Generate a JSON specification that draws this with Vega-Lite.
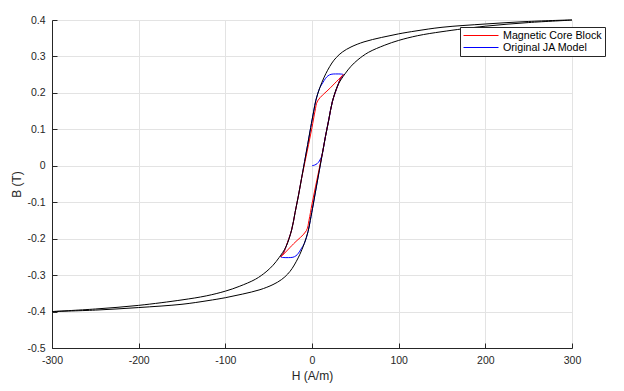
{
  "$schema": "https://vega.github.io/schema/vega-lite/v6.json",
  "width": 520,
  "height": 328,
  "autosize": {"type": "none"},
  "padding": {"left": 52, "top": 20, "right": 52, "bottom": 43},
  "background": "white",
  "config": {
    "font": "Liberation Sans",
    "view": {"stroke": null},
    "axis": {
      "domainColor": "#262626", "tickColor": "#262626", "labelColor": "#262626", "titleColor": "#262626",
      "labelFont": "Liberation Sans", "titleFont": "Liberation Sans", "labelFontSize": 10.5, "titleFontSize": 12,
      "titleFontWeight": "normal", "gridColor": "#e3e3e3", "gridWidth": 1, "tickSize": -5, "tickWidth": 1, "domainWidth": 1,
      "labelOverlap": false
    }
  },
  "data": {"values": [
    {"s":"major","i":0,"H":-300,"B":-0.400},{"s":"major","i":1,"H":-250,"B":-0.396},{"s":"major","i":2,"H":-200,"B":-0.389},{"s":"major","i":3,"H":-150,"B":-0.380},{"s":"major","i":4,"H":-120,"B":-0.370},{"s":"major","i":5,"H":-100,"B":-0.362},{"s":"major","i":6,"H":-80,"B":-0.352},{"s":"major","i":7,"H":-60,"B":-0.340},{"s":"major","i":8,"H":-45,"B":-0.326},{"s":"major","i":9,"H":-35,"B":-0.312},{"s":"major","i":10,"H":-28,"B":-0.297},{"s":"major","i":11,"H":-23,"B":-0.282},{"s":"major","i":12,"H":-18,"B":-0.262},{"s":"major","i":13,"H":-14,"B":-0.243},{"s":"major","i":14,"H":-9,"B":-0.214},{"s":"major","i":15,"H":-4.5,"B":-0.180},{"s":"major","i":16,"H":-2,"B":-0.150},{"s":"major","i":17,"H":1.5,"B":-0.105},{"s":"major","i":18,"H":5,"B":-0.058},{"s":"major","i":19,"H":8.5,"B":-0.012},{"s":"major","i":20,"H":12,"B":0.034},{"s":"major","i":21,"H":15.5,"B":0.080},{"s":"major","i":22,"H":19.5,"B":0.128},{"s":"major","i":23,"H":23.5,"B":0.176},{"s":"major","i":24,"H":30,"B":0.222},{"s":"major","i":25,"H":38,"B":0.252},{"s":"major","i":26,"H":45,"B":0.273},{"s":"major","i":27,"H":53,"B":0.291},{"s":"major","i":28,"H":65,"B":0.311},{"s":"major","i":29,"H":84,"B":0.331},{"s":"major","i":30,"H":100,"B":0.344},{"s":"major","i":31,"H":122,"B":0.357},{"s":"major","i":32,"H":150,"B":0.368},{"s":"major","i":33,"H":200,"B":0.383},{"s":"major","i":34,"H":250,"B":0.393},{"s":"major","i":35,"H":300,"B":0.400},
    {"s":"major","i":36,"H":250,"B":0.396},{"s":"major","i":37,"H":200,"B":0.389},{"s":"major","i":38,"H":150,"B":0.380},{"s":"major","i":39,"H":120,"B":0.370},{"s":"major","i":40,"H":100,"B":0.362},{"s":"major","i":41,"H":80,"B":0.352},{"s":"major","i":42,"H":60,"B":0.340},{"s":"major","i":43,"H":45,"B":0.326},{"s":"major","i":44,"H":35,"B":0.312},{"s":"major","i":45,"H":28,"B":0.297},{"s":"major","i":46,"H":23,"B":0.282},{"s":"major","i":47,"H":18,"B":0.262},{"s":"major","i":48,"H":14,"B":0.243},{"s":"major","i":49,"H":9,"B":0.214},{"s":"major","i":50,"H":4.5,"B":0.180},{"s":"major","i":51,"H":2,"B":0.150},{"s":"major","i":52,"H":-1.5,"B":0.105},{"s":"major","i":53,"H":-5,"B":0.058},{"s":"major","i":54,"H":-8.5,"B":0.012},{"s":"major","i":55,"H":-12,"B":-0.034},{"s":"major","i":56,"H":-15.5,"B":-0.080},{"s":"major","i":57,"H":-19.5,"B":-0.128},{"s":"major","i":58,"H":-23.5,"B":-0.176},{"s":"major","i":59,"H":-30,"B":-0.222},{"s":"major","i":60,"H":-38,"B":-0.252},{"s":"major","i":61,"H":-45,"B":-0.273},{"s":"major","i":62,"H":-53,"B":-0.291},{"s":"major","i":63,"H":-65,"B":-0.311},{"s":"major","i":64,"H":-84,"B":-0.331},{"s":"major","i":65,"H":-100,"B":-0.344},{"s":"major","i":66,"H":-122,"B":-0.357},{"s":"major","i":67,"H":-150,"B":-0.368},{"s":"major","i":68,"H":-200,"B":-0.383},{"s":"major","i":69,"H":-250,"B":-0.393},{"s":"major","i":70,"H":-300,"B":-0.400},

    {"s":"Original JA Model","i":0,"H":0,"B":0},{"s":"Original JA Model","i":1,"H":3,"B":0.002},{"s":"Original JA Model","i":2,"H":6,"B":0.006},{"s":"Original JA Model","i":3,"H":8.5,"B":0.013},{"s":"Original JA Model","i":4,"H":10.5,"B":0.022},{"s":"Original JA Model","i":5,"H":12,"B":0.034},{"s":"Original JA Model","i":6,"H":15.5,"B":0.080},{"s":"Original JA Model","i":7,"H":19.5,"B":0.128},{"s":"Original JA Model","i":8,"H":23.5,"B":0.176},{"s":"Original JA Model","i":9,"H":30,"B":0.222},{"s":"Original JA Model","i":10,"H":33,"B":0.240},{"s":"Original JA Model","i":11,"H":36,"B":0.250},
    {"s":"Original JA Model","i":12,"H":31,"B":0.252},{"s":"Original JA Model","i":13,"H":27,"B":0.252},{"s":"Original JA Model","i":14,"H":22,"B":0.251},{"s":"Original JA Model","i":15,"H":18.5,"B":0.247},{"s":"Original JA Model","i":16,"H":15.7,"B":0.240},{"s":"Original JA Model","i":17,"H":12.5,"B":0.228},{"s":"Original JA Model","i":18,"H":9,"B":0.214},{"s":"Original JA Model","i":19,"H":4.5,"B":0.180},{"s":"Original JA Model","i":20,"H":2,"B":0.150},{"s":"Original JA Model","i":21,"H":-1.5,"B":0.105},{"s":"Original JA Model","i":22,"H":-5,"B":0.058},{"s":"Original JA Model","i":23,"H":-8.5,"B":0.012},{"s":"Original JA Model","i":24,"H":-12,"B":-0.034},{"s":"Original JA Model","i":25,"H":-15.5,"B":-0.080},{"s":"Original JA Model","i":26,"H":-19.5,"B":-0.128},{"s":"Original JA Model","i":27,"H":-23.5,"B":-0.176},{"s":"Original JA Model","i":28,"H":-30,"B":-0.222},{"s":"Original JA Model","i":29,"H":-33,"B":-0.240},{"s":"Original JA Model","i":30,"H":-36,"B":-0.250},
    {"s":"Original JA Model","i":31,"H":-31,"B":-0.252},{"s":"Original JA Model","i":32,"H":-27,"B":-0.252},{"s":"Original JA Model","i":33,"H":-22,"B":-0.251},{"s":"Original JA Model","i":34,"H":-18.5,"B":-0.247},{"s":"Original JA Model","i":35,"H":-15.7,"B":-0.240},{"s":"Original JA Model","i":36,"H":-12.5,"B":-0.228},{"s":"Original JA Model","i":37,"H":-9,"B":-0.214},{"s":"Original JA Model","i":38,"H":-4.5,"B":-0.180},{"s":"Original JA Model","i":39,"H":-2,"B":-0.150},{"s":"Original JA Model","i":40,"H":1.5,"B":-0.105},{"s":"Original JA Model","i":41,"H":5,"B":-0.058},{"s":"Original JA Model","i":42,"H":8.5,"B":-0.012},{"s":"Original JA Model","i":43,"H":12,"B":0.034},{"s":"Original JA Model","i":44,"H":15.5,"B":0.080},{"s":"Original JA Model","i":45,"H":19.5,"B":0.128},{"s":"Original JA Model","i":46,"H":23.5,"B":0.176},{"s":"Original JA Model","i":47,"H":30,"B":0.222},{"s":"Original JA Model","i":48,"H":33,"B":0.240},{"s":"Original JA Model","i":49,"H":36,"B":0.250},

    {"s":"Magnetic Core Block","i":0,"H":36,"B":0.250},{"s":"Magnetic Core Block","i":1,"H":21.25,"B":0.214},{"s":"Magnetic Core Block","i":2,"H":6.5,"B":0.178},{"s":"Magnetic Core Block","i":3,"H":3.5,"B":0.150},{"s":"Magnetic Core Block","i":4,"H":0,"B":0.105},{"s":"Magnetic Core Block","i":5,"H":-4,"B":0.058},{"s":"Magnetic Core Block","i":6,"H":-8,"B":0.012},{"s":"Magnetic Core Block","i":7,"H":-12,"B":-0.034},{"s":"Magnetic Core Block","i":8,"H":-15.5,"B":-0.080},{"s":"Magnetic Core Block","i":9,"H":-19.5,"B":-0.128},{"s":"Magnetic Core Block","i":10,"H":-23.5,"B":-0.176},{"s":"Magnetic Core Block","i":11,"H":-30,"B":-0.222},{"s":"Magnetic Core Block","i":12,"H":-33,"B":-0.240},{"s":"Magnetic Core Block","i":13,"H":-36,"B":-0.250},
    {"s":"Magnetic Core Block","i":14,"H":-21.25,"B":-0.214},{"s":"Magnetic Core Block","i":15,"H":-6.5,"B":-0.178},{"s":"Magnetic Core Block","i":16,"H":-3.5,"B":-0.150},{"s":"Magnetic Core Block","i":17,"H":0,"B":-0.105},{"s":"Magnetic Core Block","i":18,"H":4,"B":-0.058},{"s":"Magnetic Core Block","i":19,"H":8,"B":-0.012},{"s":"Magnetic Core Block","i":20,"H":12,"B":0.034},{"s":"Magnetic Core Block","i":21,"H":15.5,"B":0.080},{"s":"Magnetic Core Block","i":22,"H":19.5,"B":0.128},{"s":"Magnetic Core Block","i":23,"H":23.5,"B":0.176},{"s":"Magnetic Core Block","i":24,"H":30,"B":0.222},{"s":"Magnetic Core Block","i":25,"H":33,"B":0.240},{"s":"Magnetic Core Block","i":26,"H":36,"B":0.250}
  ]},
  "encoding": {
    "x": {"field": "H", "type": "quantitative", "title": "H (A/m)",
      "scale": {"domain": [-300, 300], "nice": false, "zero": false},
      "axis": {"values": [-300,-200,-100,0,100,200,300], "labelFlush": false, "labelPadding": 12, "titlePadding": 5,
        "labelExpr": "replace(format(datum.value, 'd'), '\u2212', '-')"}},
    "y": {"field": "B", "type": "quantitative", "title": "B (T)",
      "scale": {"domain": [-0.5, 0.4], "nice": false, "zero": false},
      "axis": {"values": [-0.5,-0.4,-0.3,-0.2,-0.1,0,0.1,0.2,0.3,0.4], "labelPadding": 12, "titlePadding": 3,
        "labelExpr": "replace(format(datum.value, '.1~f'), '\u2212', '-')"}},
    "order": {"field": "i", "type": "quantitative"}
  },
  "layer": [
    {"transform": [{"filter": "datum.s !== 'major'"}],
     "mark": {"type": "line", "strokeWidth": 1, "interpolate": "catmull-rom"},
     "encoding": {
       "color": {"field": "s", "type": "nominal", "sort": ["Magnetic Core Block", "Original JA Model"],
         "scale": {"domain": ["Magnetic Core Block", "Original JA Model"], "range": ["#ff0000", "#0000ff"]},
         "legend": {"title": null, "orient": "none", "legendX": 408, "legendY": 7, "zindex": 1,
           "symbolType": "stroke", "symbolSize": 1225, "symbolStrokeWidth": 1, "clipHeight": 11, "labelOffset": 4,
           "labelFontSize": 10.7, "labelFont": "Liberation Sans", "labelColor": "#000000", "padding": 3, "rowPadding": 0,
           "fillColor": "white", "strokeColor": "#262626",
           "encode": {"symbols": {"update": {"stroke": {"signal": "datum.value === 'Magnetic Core Block' ? '#ff0000' : '#0000ff'"}, "strokeOpacity": {"value": 1}}}}}}
     }},
    {"transform": [{"filter": "datum.s === 'major'"}], "mark": {"type": "line", "strokeWidth": 1, "interpolate": "catmull-rom", "color": "#000000"}}
  ]
}
